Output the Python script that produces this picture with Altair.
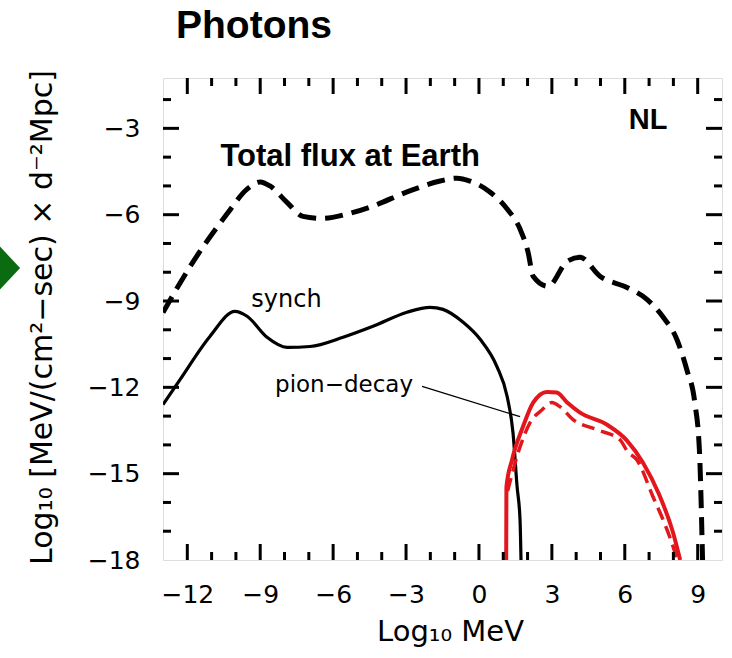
import altair as alt
import pandas as pd

# ---- data (Log10 MeV vs Log10 flux) ----
total_x = [-13, -11.77, -10.37, -9.54, -9.0, -8.6, -7.9, -7.24, -6.42, -5.43, -4.36, -2.96,
           -1.6, -0.9, -0.37, 0.45, 1.16, 1.69, 2.02, 2.23, 2.84, 3.63, 4.16, 4.98, 6.09,
           6.91, 7.56, 8.14, 8.55, 8.88, 9.07, 9.2]
total_y = [-9.4, -7.65, -5.98, -5.11, -4.86, -5.0, -5.57, -6.06, -6.13, -5.98, -5.7, -5.21,
           -4.83, -4.73, -4.83, -5.21, -5.8, -6.5, -7.3, -8.14, -8.49, -7.62, -7.48, -8.14,
           -8.53, -8.94, -9.54, -10.33, -11.38, -12.53, -14.17, -18]

synch_x = [-13, -12.3, -11.07, -10.04, -9.54, -8.72, -7.9, -6.95, -5.59, -4.36, -2.96, -2.01,
           -1.48, -0.65, 0.05, 0.74, 1.16, 1.40, 1.57, 1.69, 1.73]
synch_y = [-12.6, -11.73, -10.23, -9.36, -9.53, -10.26, -10.61, -10.58, -10.26, -9.88, -9.39,
           -9.22, -9.29, -9.74, -10.33, -11.28, -12.32, -13.57, -15.46, -16.6, -18]

pion_x = [1.12, 1.13, 1.36, 1.81, 2.23, 2.8, 3.2, 3.63, 4.16, 5.27, 6.09, 6.75, 7.4, 7.99, 8.28]
pion_y = [-18, -15.46, -14.52, -13.37, -12.53, -12.16, -12.18, -12.53, -12.88, -13.3, -13.85,
          -14.62, -15.7, -17.06, -18]

pion_earth_x = [1.18, 1.69, 2.1, 2.6, 3.0, 3.33, 3.87, 4.85, 5.8, 6.12, 6.5, 7.16, 7.74, 8.07, 8.15]
pion_earth_y = [-15.6, -14.07, -13.23, -12.78, -12.53, -12.67, -13.12, -13.47, -13.82, -14.24,
                -14.52, -15.8, -16.95, -17.76, -18]

pointer_x = [-2.34, 1.69]
pointer_y = [-11.97, -13.02]

label_text = ["Total flux at Earth", "synch", "pion\u2212decay", "NL"]
label_x = [-5.3, -7.92, -8.39, 6.96]
label_y = [-4.31, -9.22, -12.15, -3.02]

x_major = [-12, -9, -6, -3, 0, 3, 6, 9]
x_minor = [v for v in range(-12, 10) if v % 3 != 0]
y_major = [-15, -12, -9, -6, -3]
y_minor = [v for v in range(-17, -1) if v % 3 != 0]

W, H = 559, 482
FONT = "DejaVu Sans"
BOLD = "Liberation Sans"
RED = "#e3161b"

xs = alt.Scale(domain=[-13, 10], nice=False, zero=False)
ys = alt.Scale(domain=[-18, -1.25], nice=False, zero=False)

common_axis = dict(ticks=False, tickSize=0, domain=False, grid=False,
                   labelFont=FONT, labelFontSize=25, labelColor="black",
                   labelFlush=False, labelOverlap=False, titleColor="black",
                   titleFont=FONT, titleFontWeight="normal")

X = alt.X("x:Q", scale=xs, axis=alt.Axis(
    values=x_major, title="Log\u2081\u2080 MeV", titleX=287, titleY=80,
    titleBaseline="alphabetic", titleAlign="center", titleFontSize=29,
    labelPadding=22, **common_axis))
Y = alt.Y("y:Q", scale=ys, axis=alt.Axis(
    values=[-18] + y_major, title="Log\u2081\u2080 [MeV/(cm\u00b2\u2212sec) \u00d7 d\u207b\u00b2Mpc]",
    titleX=-112, titleY=239, titleAngle=270, titleBaseline="alphabetic", titleAlign="center",
    titleFontSize=30, labelPadding=23, **common_axis))


def df(xv, yv):
    return pd.DataFrame({"x": xv, "y": yv})


total = alt.Chart(df(total_x, total_y)).mark_line(
    color="black", strokeWidth=5, strokeDash=[18, 9], interpolate="monotone", clip=True
).encode(x=X, y=Y)

synch = alt.Chart(df(synch_x, synch_y)).mark_line(
    color="black", strokeWidth=3.2, interpolate="monotone", clip=True
).encode(x=X, y=Y)

pion = alt.Chart(df(pion_x, pion_y)).mark_line(
    color=RED, strokeWidth=4, interpolate="monotone", clip=True
).encode(x=X, y=Y)

pion_earth = alt.Chart(df(pion_earth_x, pion_earth_y)).mark_line(
    color=RED, strokeWidth=3.5, strokeDash=[13, 7], interpolate="monotone", clip=True
).encode(x=X, y=Y)

pointer = alt.Chart(df(pointer_x, pointer_y)).mark_line(
    color="black", strokeWidth=1.3
).encode(x=X, y=Y)

lab = pd.DataFrame({"x": label_x, "y": label_y, "t": label_text})
txt_total = alt.Chart(lab.iloc[[0]]).mark_text(
    font=BOLD, fontWeight="bold", fontSize=31, align="center", baseline="alphabetic"
).encode(x=X, y=Y, text="t:N")
txt_synch = alt.Chart(lab.iloc[[1]]).mark_text(
    font=FONT, fontSize=24, align="center", baseline="alphabetic"
).encode(x=X, y=Y, text="t:N")
txt_pion = alt.Chart(lab.iloc[[2]]).mark_text(
    font=FONT, fontSize=23, align="left", baseline="alphabetic"
).encode(x=X, y=Y, text="t:N")
txt_nl = alt.Chart(lab.iloc[[3]]).mark_text(
    font=BOLD, fontWeight="bold", fontSize=29, align="center", baseline="alphabetic"
).encode(x=X, y=Y, text="t:N")


def xticks(vals, length, top):
    base = alt.Chart(pd.DataFrame({"x": vals})).mark_rule(color="black", strokeWidth=3)
    if top:
        return base.encode(x=X, y=alt.value(0), y2=alt.value(length))
    return base.encode(x=X, y=alt.value(H), y2=alt.value(H - length))


def yticks(vals, length, right):
    base = alt.Chart(pd.DataFrame({"y": vals})).mark_rule(color="black", strokeWidth=3)
    if right:
        return base.encode(y=Y, x=alt.value(W), x2=alt.value(W - length))
    return base.encode(y=Y, x=alt.value(0), x2=alt.value(length))


ticks = [
    xticks(x_major, 16, False), xticks(x_minor, 8, False),
    xticks(x_major, 16, True), xticks(x_minor, 8, True),
    yticks(y_major, 16, False), yticks(y_minor, 8, False),
    yticks(y_major, 16, True), yticks(y_minor, 8, True),
]

arrow = alt.Chart(pd.DataFrame({"k": [0]})).mark_point(
    shape="M-0.47,-1L0.47,0L-0.47,1Z", filled=True, fill="#0b6b10", stroke=None,
    size=1849, opacity=1
).encode(x=alt.value(-153), y=alt.value(190))

chart = alt.layer(
    total, synch, pion, pion_earth, pointer,
    txt_total, txt_synch, txt_pion, txt_nl, *ticks, arrow
).properties(
    width=W, height=H,
    autosize=alt.AutoSizeParams(type="none"),
    padding={"left": 163, "top": 78, "right": 10, "bottom": 98},
    title=alt.TitleParams("Photons", anchor="start", frame="group", dx=13, offset=24,
                          font=BOLD, fontWeight="bold", fontSize=39, color="black"),
).configure_view(
    stroke="black", strokeWidth=3.5
).configure(background="white")

chart.save("out.html", embed_options={"renderer": "svg", "actions": False})
